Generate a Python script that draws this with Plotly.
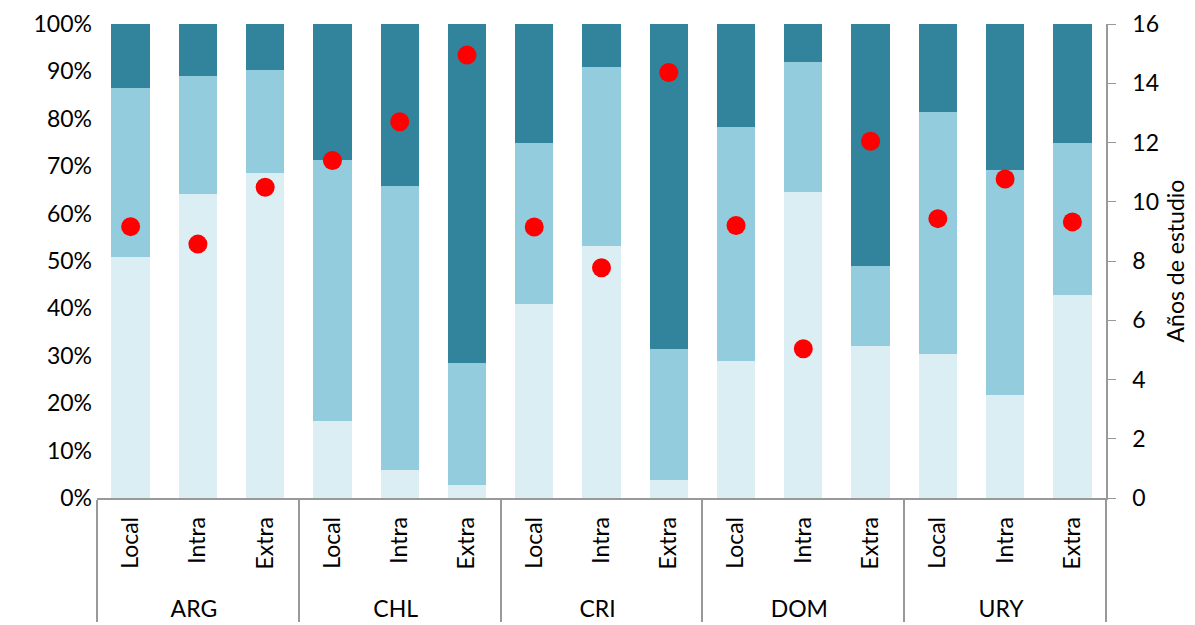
import plotly.graph_objects as go

countries = ["ARG", "CHL", "CRI", "DOM", "URY"]
types = ["Local", "Intra", "Extra"]

# shares (%) by segment, order: ARG L,I,E, CHL L,I,E, CRI ..., DOM ..., URY ...
low = [50.9, 64.1, 68.6, 16.2, 5.9, 2.7, 40.9, 53.2, 3.8, 28.9, 64.6, 32.1, 30.4, 21.7, 42.8]
mid = [35.7, 24.9, 21.6, 55.1, 59.9, 25.8, 34.1, 37.7, 27.6, 49.3, 27.4, 16.8, 51.0, 47.6, 32.2]
high = [13.4, 11.0, 9.8, 28.7, 34.2, 71.5, 25.0, 9.1, 68.6, 21.8, 8.0, 51.1, 18.6, 30.7, 25.0]
years = [9.16, 8.57, 10.49, 11.39, 12.70, 14.95, 9.15, 7.77, 14.36, 9.20, 5.04, 12.04, 9.43, 10.77, 9.32]

# leading non-breaking spaces give the rotated labels extra room below them
PAD = "\u00a0\u00a0"
x_outer = [c for c in countries for _ in types]
x_inner = [PAD + t for _ in countries for t in types]
x = [x_outer, x_inner]

FONT = "Lato"
fig = go.Figure()
for vals, col in [(low, "#DAEEF3"), (mid, "#93CDDD"), (high, "#31849B")]:
    fig.add_trace(go.Bar(x=x, y=vals, marker=dict(color=col, line=dict(width=0)),
                         showlegend=False, hoverinfo="y"))
fig.add_trace(go.Scatter(x=x, y=years, mode="markers", yaxis="y2",
                         marker=dict(color="#FF0000", size=19), showlegend=False))

fig.update_layout(
    width=1195, height=625,
    barmode="stack", bargap=0.43,
    plot_bgcolor="white", paper_bgcolor="white",
    # page body adds an 8px offset; margins compensate for it
    margin=dict(l=89, r=97, t=16, b=135, autoexpand=False),
    font=dict(family=FONT, size=23, color="black"),
    xaxis=dict(type="multicategory", range=[-0.5, 14.5],
               showline=True, linecolor="#999999", linewidth=1.5,
               showdividers=True, dividercolor="#999999", dividerwidth=1.5,
               tickangle=-90, ticks="", automargin=False, ticklabelstandoff=8),
    yaxis=dict(range=[0, 100], tickvals=list(range(0, 101, 10)),
               ticktext=[f"{v}%" for v in range(0, 101, 10)],
               showgrid=False, zeroline=False, showline=False, ticks="",
               ticklabelstandoff=4, automargin=False),
    yaxis2=dict(range=[0, 16], overlaying="y", side="right", dtick=2,
                showgrid=False, zeroline=False, showline=True, linecolor="#999999",
                linewidth=1.5, ticks="outside", ticklen=8, tickcolor="#999999",
                ticklabelstandoff=12, automargin=False,
                title=dict(text="Años de estudio", standoff=10, font=dict(size=23))),
)
fig.write_html("out.html")
